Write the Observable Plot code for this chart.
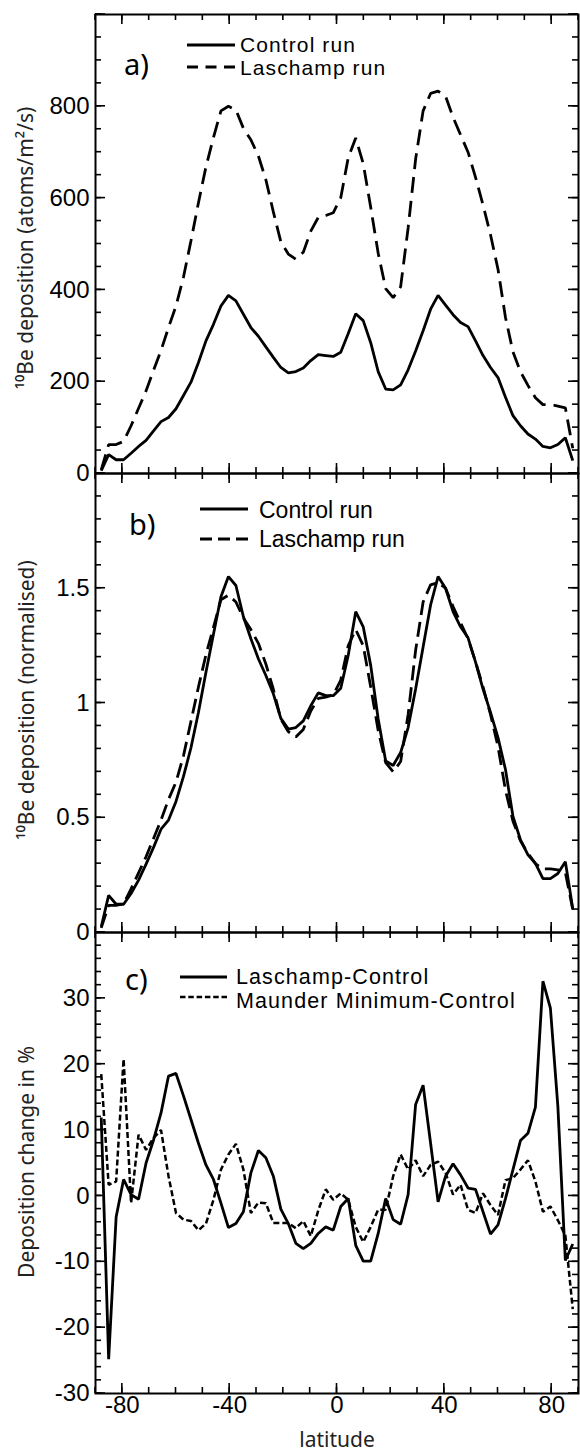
<!DOCTYPE html>
<html><head><meta charset="utf-8">
<script src="https://cdn.jsdelivr.net/npm/d3@7"></script>
<script src="https://cdn.jsdelivr.net/npm/@observablehq/plot@0.6"></script>
<style>
body{margin:0;background:#fff;}
#wrap{position:relative;width:580px;height:1454px;overflow:hidden;background:#fff;}
</style></head><body><div id="wrap"></div>
<script>
// Latitudes of the model grid (degrees)
const lat = [-87.86,-85.10,-82.31,-79.53,-76.74,-73.95,-71.16,-68.37,-65.58,-62.79,-60.00,-57.21,-54.42,-51.63,-48.84,-46.04,-43.25,-40.46,-37.67,-34.88,-32.09,-29.30,-26.51,-23.72,-20.93,-18.14,-15.35,-12.56,-9.77,-6.98,-4.19,-1.40,1.40,4.19,6.98,9.77,12.56,15.35,18.14,20.93,23.72,26.51,29.30,32.09,34.88,37.67,40.46,43.25,46.04,48.84,51.63,54.42,57.21,60.00,62.79,65.58,68.37,71.16,73.95,76.74,79.53,82.31,85.10,87.86];

// a) 10Be deposition (atoms/m2/s)
const controlA = [6,41,30,30,44,59,72,93,113,122,141,170,199,242,289,325,365,388,376,347,318,299,276,253,231,219,222,230,246,259,257,255,264,305,348,333,285,222,184,182,193,226,267,311,358,388,367,346,329,320,289,257,231,209,166,126,104,86,75,59,56,63,78,28];
const laschampA = [8,63,63,70,104,142,180,225,268,318,365,428,507,590,668,732,790,800,792,752,727,692,640,570,505,478,467,482,528,558,562,568,601,688,731,675,580,480,403,383,407,535,685,790,828,833,822,776,738,700,645,585,520,445,340,265,222,192,165,150,150,147,143,55];

// b) 10Be deposition (normalised)
const controlB = [0.025,0.162,0.123,0.123,0.17,0.228,0.298,0.371,0.45,0.49,0.571,0.68,0.805,0.96,1.134,1.30,1.463,1.551,1.512,1.376,1.28,1.193,1.12,1.04,0.933,0.886,0.893,0.922,0.988,1.044,1.032,1.032,1.064,1.208,1.398,1.332,1.164,0.93,0.747,0.728,0.784,0.893,1.061,1.244,1.427,1.551,1.5,1.398,1.332,1.284,1.178,1.061,0.959,0.849,0.71,0.506,0.404,0.338,0.301,0.235,0.235,0.257,0.308,0.104];
const laschampB = [0.02,0.118,0.118,0.125,0.19,0.26,0.33,0.41,0.49,0.58,0.655,0.77,0.92,1.07,1.21,1.33,1.45,1.47,1.44,1.37,1.32,1.26,1.17,1.06,0.93,0.875,0.852,0.885,0.965,1.02,1.026,1.035,1.10,1.25,1.32,1.25,1.07,0.88,0.74,0.70,0.745,0.95,1.23,1.44,1.515,1.525,1.50,1.42,1.35,1.28,1.18,1.07,0.95,0.81,0.62,0.485,0.40,0.345,0.30,0.277,0.277,0.273,0.262,0.10];

// c) Deposition change in %
const laschampMinusControl = [11.9,-24.8,-3.2,2.5,0.2,-0.5,5,8.5,12.6,18.2,18.6,15.2,11.6,8,4.7,2.5,-1.1,-4.8,-4.2,-2.4,3.5,6.9,5.8,3,-2,-4.2,-7.2,-8,-7.2,-5.7,-4.7,-5.2,-1.6,-0.4,-7.5,-9.9,-9.9,-5.7,-0.4,-3.6,-4.3,0.2,13.9,16.8,8,-0.9,3,4.9,3.2,1.2,1,-2.4,-5.8,-4.4,-0.4,4,8.4,9.5,13.5,32.6,28.5,13.6,-9.8,-7.3];
const maunderMinusControl = [18.5,1.7,2.2,20.8,-1.1,9.3,7,8.8,10,3,-2.6,-3.6,-3.8,-5.2,-4.2,-0.6,4,6.3,7.9,4,-2.6,-1,-1.1,-4.1,-4.1,-4.1,-4.9,-3.8,-6.1,-2.2,1,-0.6,0.4,-0.6,-4.7,-7,-4.7,-2.1,-2.1,3,6.3,4,5.4,3,4.7,5.2,3.5,0.2,1.7,-2.1,-2.6,0.4,-1.4,-2.9,2.4,2.7,4,5.4,2.2,-2.4,-1.6,-3.7,-6,-17.2];

// ticks
const xMajor = [-80,-40,0,40,80];
const xMinor = d3.range(-90, 91, 10);
const yLabelsA = [0,200,400,600,800];
const yMajorA = [0,200,400,600,800,1000];
const yMinorA = d3.range(0, 1001, 50);
const yLabelsB = [0,0.5,1,1.5];
const yMajorB = [0,0.5,1,1.5,2];
const yMinorB = d3.range(0, 21).map(d => d / 10);
const yLabelsC = [-30,-20,-10,0,10,20,30];
const yMajorC = [-30,-20,-10,0,10,20,30,40];
const yMinorC = d3.range(-30, 41, 2);

const tickFont = "'Liberation Sans', Arial, Helvetica, sans-serif";
const titleFont = "'Noto Sans', 'Open Sans', sans-serif";
const wrap = document.getElementById("wrap");
const W = 580, ML = 95, MR = 2;
const MINOR = 6, MAJOR = 10;

const table = vals => lat.map((l, i) => ({lat: l, v: vals[i]}));
const panels = [];

function panel(cfg) {
  const marks = [
    Plot.axisY({anchor: "left", ticks: cfg.yLabels, tickSize: 0, tickPadding: 6, tickFormat: d => String(d), label: null, fontSize: 24})
  ];
  if (cfg.bottomLabels) {
    marks.push(Plot.axisX({anchor: "bottom", ticks: xMajor, tickSize: 0, tickPadding: 2, tickFormat: d => String(d), label: null, fontSize: 24}));
  } else {
    marks.push(Plot.axisX({anchor: "bottom", ticks: [], tickSize: 0, label: null}));
  }
  for (const s of cfg.series) {
    marks.push(Plot.line(table(s.values), {x: "lat", y: "v", stroke: "black", strokeWidth: s.w, strokeDasharray: s.dash, strokeLinecap: "butt", strokeLinejoin: "miter"}));
  }
  marks.push(Plot.frame({stroke: "black", strokeWidth: 2}));
  const svg = Plot.plot({
    width: W, height: cfg.height,
    marginTop: cfg.mt, marginBottom: cfg.mb, marginLeft: ML, marginRight: MR,
    x: {domain: [-90, 90]},
    y: {domain: cfg.yDomain},
    style: {background: "transparent", overflow: "visible", fontFamily: tickFont, fontSize: "24px", color: "black"},
    marks
  });
  svg.style.position = "absolute";
  svg.style.left = "0px";
  svg.style.top = cfg.top + "px";
  wrap.append(svg);
  panels.push({svg, cfg});
}

panel({top: 0, height: 480, mt: 14, mb: 7, yDomain: [0, 1000], yMajor: yMajorA, yMinor: yMinorA, yLabels: yLabelsA,
  series: [{values: controlA, w: 2.8}, {values: laschampA, w: 2.8, dash: "16,8"}]});
panel({top: 466, height: 473, mt: 7, mb: 7, yDomain: [0, 2], yMajor: yMajorB, yMinor: yMinorB, yLabels: yLabelsB,
  series: [{values: controlB, w: 2.8}, {values: laschampB, w: 2.8, dash: "15,7"}]});
panel({top: 925, height: 529, mt: 7, mb: 61, yDomain: [-30, 40], yMajor: yMajorC, yMinor: yMinorC, yLabels: yLabelsC, bottomLabels: true,
  series: [{values: laschampMinusControl, w: 2.8}, {values: maunderMinusControl, w: 2.5, dash: "6,3"}]});

// Annotation overlay: ticks, panel letters, legends, axis titles
const ov = d3.select(wrap).append("svg")
  .attr("width", 580).attr("height", 1454)
  .style("position", "absolute").style("left", "0px").style("top", "0px");

// inward ticks on all four sides, placed with each panel's own Plot scales
const tg = ov.append("g").attr("stroke", "#000").attr("stroke-width", 1.6);
for (const {svg, cfg} of panels) {
  const sx = svg.scale("x"), sy = svg.scale("y");
  const fx = d3.scaleLinear(sx.domain, sx.range);
  const fy = d3.scaleLinear(sy.domain, sy.range);
  const x0 = sx.range[0], x1 = sx.range[1];
  const yTop = cfg.top + Math.min(...sy.range), yBot = cfg.top + Math.max(...sy.range);
  const xt = (vals, len) => vals.forEach(v => {
    const x = fx(v);
    tg.append("line").attr("x1", x).attr("x2", x).attr("y1", yTop).attr("y2", yTop + len);
    tg.append("line").attr("x1", x).attr("x2", x).attr("y1", yBot).attr("y2", yBot - len);
  });
  const yt = (vals, len) => vals.forEach(v => {
    const y = cfg.top + fy(v);
    tg.append("line").attr("x1", x0).attr("x2", x0 + len).attr("y1", y).attr("y2", y);
    tg.append("line").attr("x1", x1).attr("x2", x1 - len).attr("y1", y).attr("y2", y);
  });
  xt(xMinor, MINOR); xt(xMajor, MAJOR);
  yt(cfg.yMinor, MINOR); yt(cfg.yMajor, MAJOR);
}

function txt(x, y, s, size, family, opts = {}) {
  const t = ov.append("text").attr("x", x).attr("y", y).text(s)
    .attr("font-size", size).attr("font-family", family).attr("fill", opts.fill || "#000")
    .attr("text-anchor", opts.anchor || "start");
  if (opts.rotate) t.attr("transform", `rotate(${opts.rotate},${x},${y})`);
  if (opts.dy) t.attr("dy", opts.dy);
  if (opts.ls) t.attr("letter-spacing", opts.ls);
  return t;
}
function seg(x1, x2, y, dash, w = 2.8) {
  ov.append("line").attr("x1", x1).attr("x2", x2).attr("y1", y).attr("y2", y)
    .attr("stroke", "#000").attr("stroke-width", w).attr("stroke-dasharray", dash || null);
}

// panel letters
txt(124, 75, "a)", 29, titleFont);
txt(129, 535, "b)", 29, titleFont);
txt(125, 990, "c)", 29, titleFont);

// legend a
seg(187, 235, 45);
seg(187, 235, 67, "11,7.5");
txt(240, 51.5, "Control run", 21, tickFont, {ls: 1.1});
txt(240, 75, "Laschamp run", 21, tickFont, {ls: 1.1});

// legend b
seg(200, 248, 509);
seg(200, 248, 539, "12,6");
txt(259, 518, "Control run", 23, tickFont);
txt(259, 547, "Laschamp run", 23, tickFont);

// legend c
seg(180, 227, 977);
seg(180, 227, 997, "5.5,2.8", 2.5);
txt(236, 983.5, "Laschamp-Control", 21.5, tickFont, {ls: 1.1});
txt(236, 1007.5, "Maunder Minimum-Control", 21.5, tickFont, {ls: 1.1});

// axis titles
txt(26, 248, "¹⁰Be deposition (atoms/m²/s)", 21, titleFont, {anchor: "middle", rotate: -90, dy: "0.35em", fill: "#222"});
txt(27, 700, "¹⁰Be deposition (normalised)", 21, titleFont, {anchor: "middle", rotate: -90, dy: "0.35em", fill: "#222"});
txt(27, 1162, "Deposition change in %", 21, titleFont, {anchor: "middle", rotate: -90, dy: "0.35em", fill: "#222"});
txt(337, 1447, "latitude", 21, titleFont, {anchor: "middle", fill: "#222"});
</script>
</body></html>
